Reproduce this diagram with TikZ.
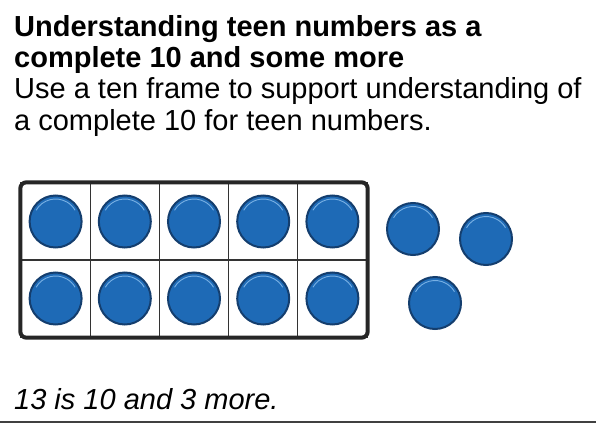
\documentclass[tikz,border=0pt]{standalone}
\usepackage{fontspec}
\setmainfont{Liberation Sans}
\usetikzlibrary{positioning,calc}

\definecolor{counterblue}{RGB}{30,106,182}
\definecolor{counteredge}{RGB}{20,62,110}
\definecolor{counterhl}{RGB}{120,176,228}

\begin{document}
\begin{tikzpicture}[
  x=1pt, y=-1pt,
  every node/.style={font=\fontsize{29}{33}\selectfont},
  line/.style={anchor=base west, inner sep=0pt},
  cell/.style={draw=black!80, line width=1.3pt, minimum width=69.2pt,
               minimum height=77pt, inner sep=0pt},
  counter/.style={circle, fill=counterblue, draw=counteredge,
                  line width=2pt, minimum size=52pt, inner sep=0pt,
                  path picture={\draw[counterhl, line width=0.9pt]
                    ($(path picture bounding box.center)+(150:22.5pt)$)
                    arc[start angle=150, end angle=30, radius=22.5pt];}},
]
\useasboundingbox (0,0) rectangle (596,425);
% heading and description
\node[line, font=\fontsize{29}{33}\selectfont\bfseries] (head1) at (14,37)
  {Understanding teen numbers as a};
\node[line, font=\fontsize{29}{33}\selectfont\bfseries] (head2) at (14,68)
  {complete 10 and some more};
\node[line] (desc1) at (14,99) {Use a ten frame to support understanding of};
\node[line] (desc2) at (14,130) {a complete 10 for teen numbers.};
% ten frame
\foreach \r in {1,2} {
  \foreach \c in {1,...,5} {
    \node[cell] (c\r\c) at ({21+69.2*(\c-0.5)}, {183+77*(\r-0.5)}) {};
    \node[counter] (k\r\c) at (c\r\c.center) {};
  }
}
\draw[black!85, line width=4pt, rounded corners=6pt]
  (c11.north west) rectangle (c25.south east);
% three more
\node[counter] (m1) at (413,229) {};
\node[counter] (m2) at (486,239) {};
\node[counter] (m3) at (435,303) {};
% caption
\node[line, font=\fontsize{29}{33}\selectfont\itshape] (cap) at (14,409)
  {13 is 10 and 3 more.};
\coordinate (ruleL) at (0,422);
\coordinate (ruleR) at (596,422);
\draw[black!75, line width=1.5pt] (ruleL) -- (ruleR);
\end{tikzpicture}
\end{document}
